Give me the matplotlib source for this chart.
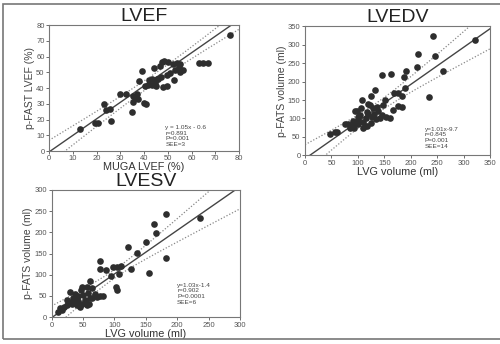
import numpy as np
import matplotlib
matplotlib.use("Agg")
import matplotlib.pyplot as plt
from matplotlib.patches import Rectangle

plt.rcParams["font.family"] = ["Liberation Sans", "DejaVu Sans"]

# LVEF panel (MUGA vs p-FAST)
ef_x = [13, 19.5, 20.5, 23, 24, 25.5, 26, 32.5, 34.8, 35.5, 36, 37, 35.5, 39.3, 38, 40, 41, 40.5,
        42, 43.3, 44, 44.8, 46, 46.8, 47.5, 48.5, 49.5, 49.6, 51, 52.5, 53.2, 54, 54.6, 55, 56.4,
        63, 65, 67, 76, 45.4, 48.2, 43.3, 50, 52, 47, 45, 41.5, 30, 37.5, 55]
ef_y = [14, 17.5, 17.5, 30, 26, 27, 19, 36, 25, 35, 33.5, 36, 31, 51, 44.5, 30.5, 30, 41.5,
        45, 46, 53, 43, 45.5, 54, 56.5, 57, 41, 48, 49.5, 45, 51.5, 56, 53.5, 50.5, 51.5,
        56, 56, 56, 73.5, 46, 40.5, 42, 56.5, 55, 47, 41, 42, 36, 33, 55.5]

# LVEDV panel
edv_x = [47, 57, 61, 76, 82, 88, 85, 91, 98, 101, 104, 107, 110, 113, 117, 123, 126, 120, 124, 132,
         129, 139, 142, 145, 148, 151, 145, 162, 167, 176, 168, 176, 183, 183, 187, 191, 189, 211,
         213, 235, 243, 245, 262, 322, 136, 154, 95, 100, 105, 115, 118, 130, 92, 97, 110, 125,
         135, 160, 100, 120]
edv_y = [58, 63, 62, 85, 85, 80, 73, 94, 121, 85, 110, 150, 73, 80, 78, 137, 105, 111, 160, 176,
         128, 119, 100, 110, 137, 150, 218, 221, 123, 134, 169, 170, 160, 132, 212, 230, 182, 241,
         276, 158, 325, 270, 228, 314, 132, 105, 120, 95, 128, 100, 118, 112, 75, 88, 90, 88,
         98, 100, 105, 140]

# LVESV panel
esv_x = [13, 16, 24, 32, 40, 48, 56, 34, 42, 50, 53, 61, 42, 30, 49, 56, 58, 64, 61, 72, 77, 82,
         77, 77, 86, 94, 98, 102, 104, 104, 110, 108, 121, 127, 136, 150, 155, 163, 166, 182, 182,
         236, 20, 28, 36, 45, 55, 65, 70, 25, 38, 10, 60, 47]
esv_y = [21, 16, 28, 30, 28, 30, 28, 45, 49, 53, 41, 45, 37, 60, 71, 71, 58, 68, 86, 48, 51, 50,
         133, 113, 111, 98, 119, 71, 63, 118, 121, 102, 165, 113, 152, 177, 104, 219, 198, 243, 140,
         233, 25, 35, 38, 25, 35, 45, 55, 40, 55, 12, 30, 63]

fig = plt.figure(figsize=(5, 3.44), dpi=100)
fig.patches.append(Rectangle((0.006, 0.015), 1.2, 0.974, transform=fig.transFigure,
                             fill=False, edgecolor="#777777", linewidth=1.2))


def panel(rect, x, y, lim, step, title, xlabel, ylabel, slope, icpt, stats, txt_xy, band, tpad=-1):
    ax = fig.add_axes(rect)
    xs = np.linspace(0, lim, 200)
    fit = slope * xs + icpt
    xm, w0, sc = band
    w = w0 * np.sqrt(1 + ((xs - xm) / sc) ** 2)
    ax.plot(xs, fit, color="#444444", lw=1.0)
    ax.plot(xs, fit + w, color="#888888", lw=0.9, ls=(0, (1, 1.5)))
    ax.plot(xs, fit - w, color="#888888", lw=0.9, ls=(0, (1, 1.5)))
    ax.plot(x, y, "o", color="#2e2e2e", markersize=4.8, markeredgewidth=0)
    ax.set_xlim(0, lim)
    ax.set_ylim(0, lim)
    ticks = np.arange(0, lim + 1, step)
    ax.set_xticks(ticks)
    ax.set_yticks(ticks)
    ax.tick_params(labelsize=5.5, colors="#555555", length=2, width=0.6, pad=1.2)
    for s in ax.spines.values():
        s.set_color("#777777")
        s.set_linewidth(0.8)
    ax.set_title(title, fontsize=14, color="#222222", pad=tpad)
    ax.set_xlabel(xlabel, fontsize=7.8, color="#333333", labelpad=0)
    ax.set_ylabel(ylabel, fontsize=7.5, color="#444444", labelpad=1)
    ax.text(txt_xy[0], txt_xy[1], "\n".join(stats), fontsize=4.6, color="#444444",
            va="top", ha="left", linespacing=1.15)
    return ax


panel([0.098, 0.561, 0.38, 0.366], ef_x, ef_y, 80, 10, "LVEF", "MUGA LVEF (%)", "p-FAST LVEF (%)",
      1.05, -0.6, ["y = 1.05x - 0.6", "r=0.891", "P=0.001", "SEE=3"], (49, 16.5), (45, 3, 20))
panel([0.61, 0.549, 0.37, 0.374], edv_x, edv_y, 350, 50, "LVEDV", "LVG volume (ml)",
      "p-FATS volume (ml)", 1.01, -9.7, ["y=1.01x-9.7", "r=0.845", "P=0.001", "SEE=14"],
      (227, 77), (140, 15, 60))
panel([0.103, 0.078, 0.377, 0.370], esv_x, esv_y, 300, 50, "LVESV", "LVG volume (ml)",
      "p-FATS volume (ml)", 1.03, -1.4, ["y=1.03x-1.4", "r=0.902", "P=0.0001", "SEE=6"],
      (200, 81), (100, 10, 39), tpad=-3.5)

fig.savefig("out.png", dpi=100)
